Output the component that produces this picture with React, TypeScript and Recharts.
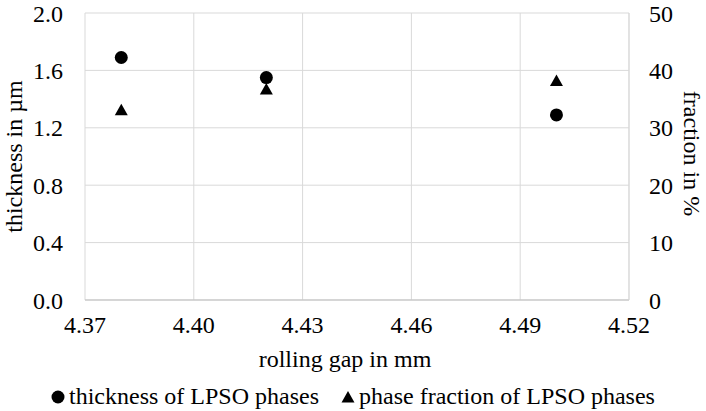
import React from "react";
import {
  CartesianGrid,
  Legend,
  Scatter,
  ScatterChart,
  XAxis,
  YAxis,
} from "recharts";

const rollingGap = [4.38, 4.42, 4.5];
const thickness = [1.69, 1.55, 1.29];
const phaseFraction = [33.2, 36.8, 38.3];

const xTicks = [4.37, 4.4, 4.43, 4.46, 4.49, 4.52];
const leftTicks = [0, 0.4, 0.8, 1.2, 1.6, 2.0];
const rightTicks = [0, 10, 20, 30, 40, 50];

const seriesNames = ["thickness of LPSO phases", "phase fraction of LPSO phases"];

const FONT = "Liberation Serif, DejaVu Serif, serif";
const FONT_SIZE = 24;

const thicknessData = rollingGap.map((x, i) => ({ x, y: thickness[i] }));
const fractionData = rollingGap.map((x, i) => ({ x, y: phaseFraction[i] }));

function CircleMark(props: any) {
  const { cx, cy } = props;
  return <circle cx={cx} cy={cy} r={6.5} fill="#000" />;
}

function TriangleMark(props: any) {
  const { cx, cy } = props;
  const h = 11.5;
  const w = 13;
  return (
    <polygon
      points={`${cx},${cy - h / 2} ${cx + w / 2},${cy + h / 2} ${cx - w / 2},${cy + h / 2}`}
      fill="#000"
    />
  );
}

function LegendContent() {
  return (
    <div
      style={{
        display: "flex",
        justifyContent: "center",
        alignItems: "center",
        gap: 22,
        paddingTop: 12,
        fontFamily: FONT,
        fontSize: FONT_SIZE,
        color: "#000",
      }}
    >
      <span style={{ display: "flex", alignItems: "center", gap: 4 }}>
        <svg width={14} height={14}>
          <circle cx={7} cy={7} r={6.5} fill="#000" />
        </svg>
        {seriesNames[0]}
      </span>
      <span style={{ display: "flex", alignItems: "center", gap: 4 }}>
        <svg width={14} height={14}>
          <polygon points="7,1 13.5,12.5 0.5,12.5" fill="#000" />
        </svg>
        {seriesNames[1]}
      </span>
    </div>
  );
}

export default function App() {
  const tickStyle = { fill: "#000", fontSize: FONT_SIZE, fontFamily: FONT };
  return (
    <div style={{ position: "absolute", left: 0, top: 0, fontFamily: FONT }}>
      <ScatterChart
        width={706}
        height={411}
        margin={{ top: 13, right: 0, left: 0, bottom: 0 }}
        style={{ fontFamily: FONT }}
      >
        <CartesianGrid stroke="#d9d9d9" yAxisId="left" />
        <XAxis
          type="number"
          dataKey="x"
          domain={[4.37, 4.52]}
          ticks={xTicks}
          tickFormatter={(v: number) => v.toFixed(2)}
          height={71}
          axisLine={{ stroke: "#bfbfbf" }}
          tickLine={false}
          tickSize={0}
          tickMargin={16}
          tick={tickStyle}
          allowDataOverflow
          label={({ viewBox }: any) => (
            <text
              x={viewBox.x + viewBox.width / 2 - 12}
              y={viewBox.y + 67}
              textAnchor="middle"
              fontFamily={FONT}
              fontSize={FONT_SIZE}
              fill="#000"
            >
              rolling gap in mm
            </text>
          )}
        />
        <YAxis
          yAxisId="left"
          type="number"
          dataKey="y"
          domain={[0, 2]}
          ticks={leftTicks}
          tickFormatter={(v: number) => v.toFixed(1)}
          width={85}
          axisLine={false}
          tickLine={false}
          tickSize={0}
          tickMargin={22}
          tick={tickStyle}
          label={({ viewBox }: any) => (
            <text
              x={viewBox.x + 22}
              y={viewBox.y + viewBox.height / 2}
              textAnchor="middle"
              transform={`rotate(-90 ${viewBox.x + 22} ${viewBox.y + viewBox.height / 2})`}
              fontFamily={FONT}
              fontSize={FONT_SIZE}
              fill="#000"
            >
              thickness in µm
            </text>
          )}
        />
        <YAxis
          yAxisId="right"
          orientation="right"
          type="number"
          dataKey="y"
          domain={[0, 50]}
          ticks={rightTicks}
          width={77}
          axisLine={{ stroke: "#d9d9d9" }}
          tickLine={false}
          tickSize={0}
          tickMargin={20}
          tick={tickStyle}
          label={({ viewBox }: any) => (
            <text
              x={viewBox.x + 55}
              y={viewBox.y + viewBox.height / 2 - 3}
              textAnchor="middle"
              transform={`rotate(90 ${viewBox.x + 55} ${viewBox.y + viewBox.height / 2 - 3})`}
              fontFamily={FONT}
              fontSize={FONT_SIZE}
              fill="#000"
            >
              fraction in %
            </text>
          )}
        />
        <Legend verticalAlign="bottom" height={40} content={<LegendContent />} />
        <Scatter
          name={seriesNames[0]}
          data={thicknessData}
          yAxisId="left"
          shape={<CircleMark />}
          isAnimationActive={false}
        />
        <Scatter
          name={seriesNames[1]}
          data={fractionData}
          yAxisId="right"
          shape={<TriangleMark />}
          isAnimationActive={false}
        />
      </ScatterChart>
    </div>
  );
}
